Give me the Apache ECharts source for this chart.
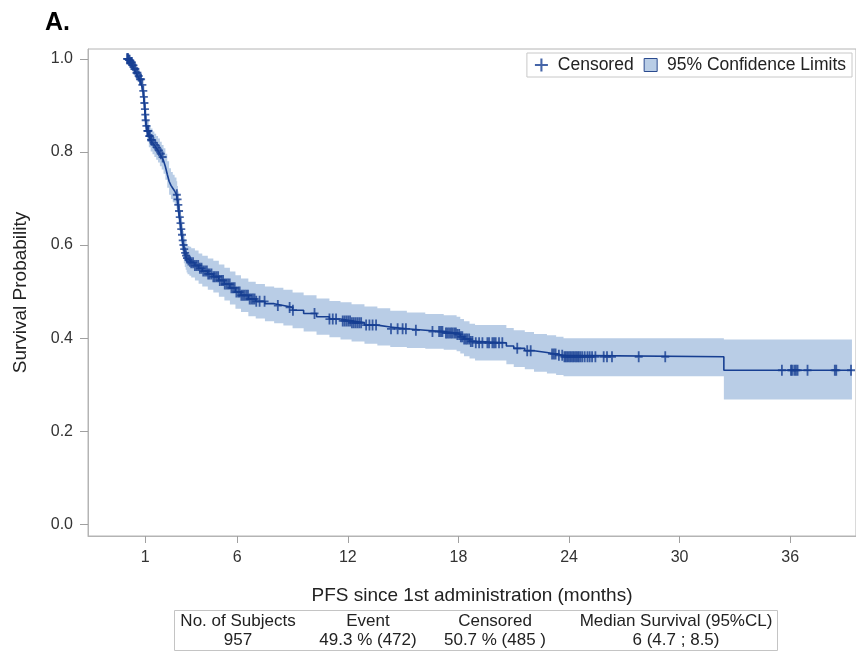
<!DOCTYPE html>
<html>
<head>
<meta charset="utf-8">
<script src="https://cdn.jsdelivr.net/npm/echarts@6/dist/echarts.min.js"></script>
<style>
html,body{margin:0;padding:0;background:#fff;}
#chart{width:856px;height:652px;}
</style>
</head>
<body>
<div id="chart"></div>
<script>
// Kaplan-Meier estimate (months, survival) with 95% confidence limits at the same times
const kmTime = [0,0.1,0.2,0.3,0.4,0.5,0.6,0.7,0.8,0.88,0.92,0.95,0.98,1.0,1.02,1.05,1.1,1.2,1.3,1.4,1.5,1.6,1.7,1.8,1.9,2.0,2.1,2.2,2.3,2.4,2.5,2.6,2.7,2.74,2.78,2.82,2.86,2.9,2.94,2.98,3.02,3.06,3.1,3.15,3.2,3.25,3.3,3.4,3.5,3.7,3.9,4.1,4.4,4.7,5.0,5.3,5.6,5.9,6.2,6.6,7.0,7.5,8.0,8.5,9.0,9.6,10.3,11.0,11.6,12.2,12.9,13.6,14.3,15.2,16.2,17.2,17.9,18.1,18.3,18.6,18.9,20.6,21.0,21.6,22.1,22.8,23.3,23.7,32.4,39.35];
const kmSurv = [1.0,0.997,0.992,0.986,0.978,0.970,0.963,0.956,0.944,0.931,0.918,0.905,0.892,0.880,0.868,0.856,0.845,0.834,0.826,0.820,0.815,0.809,0.803,0.796,0.789,0.781,0.768,0.752,0.737,0.728,0.722,0.716,0.708,0.698,0.686,0.673,0.660,0.647,0.634,0.622,0.610,0.600,0.591,0.583,0.577,0.572,0.568,0.565,0.562,0.556,0.550,0.544,0.538,0.532,0.524,0.516,0.508,0.499,0.492,0.484,0.479,0.474,0.470,0.466,0.460,0.453,0.446,0.441,0.437,0.433,0.428,0.424,0.420,0.417,0.414,0.411,0.408,0.403,0.398,0.393,0.390,0.383,0.378,0.373,0.369,0.366,0.363,0.360,0.331,0.331];
const ciUpper = [1.0,1.0,0.998,0.994,0.987,0.981,0.975,0.969,0.958,0.946,0.934,0.922,0.910,0.899,0.888,0.877,0.867,0.857,0.850,0.844,0.839,0.834,0.829,0.822,0.815,0.808,0.796,0.780,0.765,0.757,0.751,0.745,0.737,0.727,0.715,0.702,0.689,0.676,0.664,0.652,0.640,0.630,0.621,0.613,0.607,0.602,0.598,0.596,0.593,0.588,0.582,0.577,0.571,0.566,0.558,0.551,0.543,0.535,0.528,0.521,0.516,0.511,0.508,0.504,0.498,0.492,0.485,0.480,0.477,0.473,0.468,0.464,0.459,0.455,0.452,0.449,0.446,0.441,0.436,0.431,0.428,0.422,0.417,0.413,0.409,0.406,0.403,0.400,0.397,0.397];
const ciLower = [1.0,0.993,0.985,0.977,0.968,0.959,0.950,0.942,0.929,0.915,0.901,0.887,0.873,0.860,0.847,0.834,0.822,0.810,0.801,0.795,0.789,0.783,0.777,0.769,0.762,0.753,0.740,0.723,0.708,0.699,0.692,0.686,0.678,0.668,0.656,0.643,0.630,0.617,0.604,0.592,0.580,0.570,0.561,0.553,0.547,0.541,0.537,0.534,0.530,0.524,0.517,0.511,0.504,0.498,0.489,0.481,0.472,0.463,0.456,0.447,0.442,0.436,0.432,0.427,0.421,0.414,0.407,0.402,0.397,0.393,0.388,0.384,0.381,0.379,0.377,0.375,0.372,0.367,0.361,0.356,0.352,0.344,0.338,0.333,0.328,0.324,0.321,0.318,0.268,0.268];

// Censoring times (months)
const censorTimes = [0.02,0.05,0.08,0.12,0.16,0.2,0.25,0.28,0.33,0.37,0.42,0.47,0.53,0.58,0.65,0.72,0.78,0.85,0.9,0.93,0.96,0.99,1.01,1.03,1.07,1.12,1.15,1.18,1.22,1.26,1.32,1.36,1.45,1.55,1.65,1.75,1.85,1.95,
2.72,2.76,2.8,2.84,2.88,2.92,2.96,3.0,3.04,3.08,3.12,3.17,3.22,3.27,
3.35,3.43,3.5,3.6,3.7,3.79,3.88,3.97,4.06,4.15,4.25,4.35,4.42,4.5,4.6,4.7,4.78,4.87,4.96,5.05,5.15,5.23,5.32,5.41,5.5,5.59,5.68,5.77,5.86,5.95,6.05,6.13,6.22,6.31,6.4,6.49,6.58,6.67,6.76,6.85,6.94,7.03,
7.21,7.48,8.2,8.84,9.02,10.19,11.0,11.18,11.36,11.72,11.82,11.92,12.02,12.12,12.22,12.32,12.42,12.52,12.62,12.72,12.99,13.17,13.34,13.53,14.34,14.7,14.97,15.15,15.69,16.59,16.95,17.05,17.13,17.32,17.4,17.49,17.59,17.67,17.77,17.86,17.94,18.04,18.13,18.21,18.31,18.4,18.48,18.58,18.67,18.76,18.94,19.12,19.3,19.57,19.66,19.84,19.93,20.02,20.2,20.38,21.19,21.73,21.92,
23.08,23.18,23.27,23.45,23.63,23.75,23.82,23.9,23.98,24.06,24.14,24.22,24.3,24.38,24.46,24.53,24.62,24.72,24.85,25.0,25.12,25.25,25.43,25.88,26.06,26.33,27.78,29.22,
35.55,36.04,36.1,36.22,36.31,36.4,36.94,38.42,38.5,39.3];

const xTicks = [1,6,12,18,24,30,36];
const yTicks = [0,0.2,0.4,0.6,0.8,1.0];

const tableHeaders = ['No. of Subjects','Event','Censored','Median Survival (95%CL)'];
const tableValues  = ['957','49.3 % (472)','50.7 % (485 )','6 (4.7 ; 8.5)'];

const LINE = '#173f92';
const BAND = '#b9cde6';
const FONT = "'Liberation Sans', Arial, sans-serif";

function survAt(t){
  let s = kmSurv[0];
  for (let i = 0; i < kmTime.length; i++){ if (kmTime[i] <= t) s = kmSurv[i]; else break; }
  return s;
}

const kmData = kmTime.map((t,i)=>[t,kmSurv[i]]);
const censData = censorTimes.map(t=>[t,survAt(t)]);

const plusPath = 'path://M-0.9,-5.5H0.9V-0.9H4V0.9H0.9V5.5H-0.9V0.9H-4V-0.9H-0.9Z';
const plusIcon = 'path://M-0.8,-5H0.8V-0.8H5V0.8H0.8V5H-0.8V0.8H-5V-0.8H-0.8Z';

function bandRender(params, api){
  if (params.dataIndex !== 0) return null;
  const n = kmTime.length;
  const pts = [];
  for (let i = 0; i < n; i++){
    pts.push(api.coord([kmTime[i], ciUpper[i]]));
    if (i < n-1) pts.push(api.coord([kmTime[i+1], ciUpper[i]]));
  }
  for (let i = n-1; i >= 0; i--){
    if (i < n-1) pts.push(api.coord([kmTime[i+1], ciLower[i]]));
    pts.push(api.coord([kmTime[i], ciLower[i]]));
  }
  return {type:'polygon', shape:{points:pts}, style:{fill:BAND, stroke:null}, silent:true};
}

const colX = [238,368,495,676];
const graphics = [
  {type:'text', left:45, top:11, style:{text:'A.', font:"bold 25px "+FONT, fill:'#000'}},
  {type:'rect', shape:{x:174.5,y:610.5,width:603,height:40}, style:{fill:'#fff', stroke:'#c4c4c4', lineWidth:1}}
];
tableHeaders.forEach((h,i)=>{
  graphics.push({type:'text', x:colX[i], y:621, style:{text:h, font:"17px "+FONT, fill:'#222', align:'center', verticalAlign:'middle'}});
  graphics.push({type:'text', x:colX[i], y:640, style:{text:tableValues[i], font:"17px "+FONT, fill:'#222', align:'center', verticalAlign:'middle'}});
});

const chart = echarts.init(document.getElementById('chart'), null, {renderer:'canvas'});
chart.setOption({
  animation:false,
  backgroundColor:'#fff',
  textStyle:{fontFamily:FONT},
  grid:{left:88, right:-2, top:49, bottom:116, show:true, borderColor:'#b4b4b4', borderWidth:1, backgroundColor:'transparent'},
  legend:{
    right:4, top:53, orient:'horizontal', z:10,
    backgroundColor:'#fff',
    borderColor:'#c8c8c8', borderWidth:1, padding:[3,6,3,8],
    itemGap:10, itemWidth:13, itemHeight:13,
    formatter: name => ' ' + name,
    textStyle:{fontSize:17.5, color:'#222', fontFamily:FONT},
    data:[
      {name:'Censored', icon:plusIcon, itemStyle:{color:LINE}},
      {name:'95% Confidence Limits', icon:'rect', itemStyle:{color:BAND, borderColor:'#2a4a8e', borderWidth:1}}
    ]
  },
  xAxis:{
    type:'value', min:-2.1, max:39.57,
    name:'PFS since 1st administration (months)', nameLocation:'middle', nameGap:50,
    nameTextStyle:{fontSize:19, color:'#222', fontFamily:FONT},
    axisLine:{show:true, onZero:false, lineStyle:{color:'#b4b4b4'}},
    axisTick:{show:true, length:7, lineStyle:{color:'#a0a0a0'}, customValues:xTicks},
    axisLabel:{fontSize:16, color:'#333', margin:14, customValues:xTicks},
    splitLine:{show:false}
  },
  yAxis:{
    type:'value', min:-0.025, max:1.021,
    name:'Survival Probability', nameLocation:'middle', nameGap:58,
    nameTextStyle:{fontSize:19, color:'#222', fontFamily:FONT},
    axisLine:{show:true, onZero:false, lineStyle:{color:'#b4b4b4'}},
    axisTick:{show:true, length:8, lineStyle:{color:'#a0a0a0'}, customValues:yTicks},
    axisLabel:{fontSize:16, color:'#333', margin:15, customValues:yTicks, formatter:v=>v.toFixed(1)},
    splitLine:{show:false}
  },
  series:[
    {name:'95% Confidence Limits', type:'custom', renderItem:bandRender, data:[[0,0]], silent:true,
     itemStyle:{color:BAND}, z:1},
    {name:'Survival', type:'line', step:'end', data:kmData, symbol:'none', silent:true,
     lineStyle:{color:LINE, width:1.6}, itemStyle:{color:LINE}, z:3},
    {name:'Censored', type:'scatter', data:censData, symbol:plusPath, symbolSize:[8,11], silent:true,
     itemStyle:{color:LINE}, z:4}
  ],
  graphic:graphics
});
</script>
</body>
</html>
